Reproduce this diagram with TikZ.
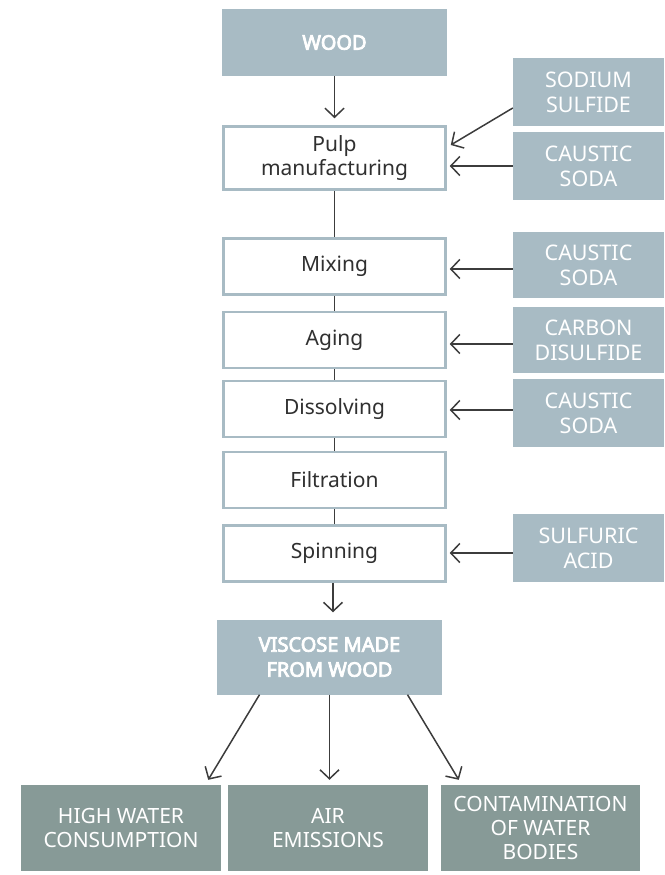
\documentclass[tikz,border=0pt]{standalone}
\usepackage{fontspec}
\setmainfont{Noto Sans}[AutoFakeBold=4]
\usetikzlibrary{arrows.meta}
\definecolor{steel}{HTML}{A8BBC4}
\definecolor{sage}{HTML}{879A97}
\definecolor{ink}{HTML}{3C3C3C}
\definecolor{txt}{HTML}{303030}

\begin{document}
\begin{tikzpicture}[x=1pt, y=-1pt,
  process/.style={draw=steel, line width=2.5pt, fill=white, text=txt, minimum width=222pt, minimum height=56pt, align=center, font=\fontsize{21}{24}\selectfont, inner sep=0pt},
  source/.style={fill=steel, text=white, minimum width=151pt, minimum height=67pt, align=center, font=\fontsize{21.5}{25}\selectfont, inner sep=0pt},
  product/.style={fill=steel, text=white, minimum width=225pt, align=center, font=\bfseries\fontsize{20}{25}\selectfont, inner sep=0pt},
  impact/.style={fill=sage, text=white, minimum width=200pt, minimum height=86pt, align=center, font=\fontsize{21}{24}\selectfont, inner sep=0pt},
  flow/.style={draw=ink, line width=1.5pt, -{Straight Barb[length=9pt,width=19pt]}},
  link/.style={draw=ink, line width=1.5pt}]
\useasboundingbox (0,0) rectangle (664,875);

% main line
\node[product, minimum height=67pt] (wood) at (334.5,42.5) {WOOD};
\node[process, minimum height=63pt] (pulp) at (334.5,158) {Pulp\\manufacturing};
\node[process] (mixing) at (334.5,266.5) {Mixing};
\node[process] (aging) at (334.5,340) {Aging};
\node[process] (dissolving) at (334.5,409) {Dissolving};
\node[process] (filtration) at (334.5,480) {Filtration};
\node[process] (spinning) at (334.5,553.5) {Spinning};
\node[product, minimum height=75pt] (viscose) at (329.5,657) {VISCOSE MADE\\FROM WOOD};

% chemicals
\node[source, minimum height=68pt] (sulfide) at (588.5,92) {SODIUM\\SULFIDE};
\node[source, minimum height=68pt] (soda1) at (588.5,166) {CAUSTIC\\SODA};
\node[source, minimum height=66pt] (soda2) at (588.5,265) {CAUSTIC\\SODA};
\node[source, minimum height=66pt] (carbon) at (588.5,340) {CARBON\\DISULFIDE};
\node[source, minimum height=68pt] (soda3) at (588.5,413) {CAUSTIC\\SODA};
\node[source, minimum height=68pt] (acid) at (588.5,548) {SULFURIC\\ACID};

% impacts
\node[impact] (water) at (121,828) {HIGH WATER\\CONSUMPTION};
\node[impact] (air) at (328,828) {AIR\\EMISSIONS};
\node[impact, minimum width=199pt] (contam) at (540.5,828) {CONTAMINATION\\OF WATER\\BODIES};

% connectors
\draw[flow, shorten >=7pt] (wood.south) -- (pulp.north);
\draw[link] (pulp.south) -- (mixing.north);
\draw[link] (mixing.south) -- (aging.north);
\draw[link] (aging.south) -- (dissolving.north);
\draw[link] (dissolving.south) -- (filtration.north);
\draw[link] (filtration.south) -- (spinning.north);
\draw[flow, shorten >=7pt] ([xshift=-1.5pt]spinning.south) -- ([xshift=-1.5pt]spinning.south |- viscose.north);

\draw[flow] ([yshift=-16pt]sulfide.west) -- ([xshift=4pt,yshift=13pt]pulp.east);
\draw[flow, shorten >=3pt] (soda1.west) -- (soda1.west -| pulp.east);
\draw[flow, shorten >=3pt] ([yshift=-4pt]soda2.west) -- ([yshift=-4pt]soda2.west -| mixing.east);
\draw[flow, shorten >=3pt] ([yshift=-4pt]carbon.west) -- ([yshift=-4pt]carbon.west -| aging.east);
\draw[flow, shorten >=3pt] ([yshift=3pt]soda3.west) -- ([yshift=3pt]soda3.west -| dissolving.east);
\draw[flow, shorten >=3pt] ([yshift=-5pt]acid.west) -- ([yshift=-5pt]acid.west -| spinning.east);

\draw[flow] ([xshift=-70pt]viscose.south) -- ([xshift=-13pt,yshift=5pt]water.north east);
\draw[flow, shorten >=5pt] (viscose.south) -- (viscose.south |- air.north);
\draw[flow] ([xshift=78pt]viscose.south) -- ([xshift=18pt,yshift=5pt]contam.north west);
\end{tikzpicture}
\end{document}
